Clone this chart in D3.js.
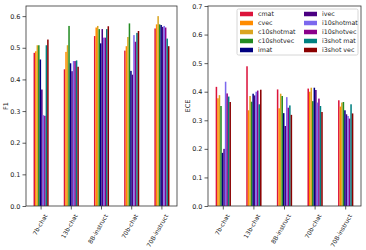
<!DOCTYPE html>
<html>
<head>
<meta charset="utf-8">
<script src="https://cdn.jsdelivr.net/npm/d3@7"></script>
<style>
body { margin: 0; background: #fff; }
text { font-family: "DejaVu Sans", sans-serif; fill: #222; }
</style>
</head>
<body>
<script>
var models = ["7b-chat", "13b-chat", "8B-instruct", "70b-chat", "70B-instruct"];
var series = ["cmat", "cvec", "c10shotmat", "c10shotvec", "imat", "ivec", "i10shotmat", "i10shotvec", "i3shot mat", "i3shot vec"];
var colors = ["#dc143c", "#ff8c00", "#daa520", "#228b22", "#000080", "#4b0082", "#7b68ee", "#8b008b", "#008080", "#8b0000"];

// one row per model, one value per series
var f1 = [
    [0.484, 0.489, 0.508, 0.508, 0.463, 0.368, 0.287, 0.285, 0.508, 0.526],
    [0.432, 0.487, 0.508, 0.569, 0.451, 0.426, 0.458, 0.458, 0.460, 0.440],
    [0.537, 0.564, 0.569, 0.559, 0.514, 0.559, 0.532, 0.532, 0.559, 0.568],
    [0.491, 0.505, 0.534, 0.577, 0.427, 0.415, 0.540, 0.519, 0.547, 0.553],
    [0.561, 0.574, 0.600, 0.574, 0.572, 0.566, 0.569, 0.564, 0.529, 0.505]
];
var ece = [
    [0.417, 0.377, 0.388, 0.350, 0.186, 0.200, 0.435, 0.394, 0.383, 0.364],
    [0.489, 0.335, 0.385, 0.365, 0.393, 0.387, 0.400, 0.404, 0.356, 0.407],
    [0.408, 0.342, 0.393, 0.385, 0.325, 0.280, 0.381, 0.344, 0.352, 0.319],
    [0.411, 0.400, 0.414, 0.367, 0.414, 0.406, 0.362, 0.376, 0.350, 0.329],
    [0.370, 0.348, 0.362, 0.364, 0.335, 0.321, 0.315, 0.306, 0.356, 0.324]
];
var f1Ticks = [0.0, 0.1, 0.2, 0.3, 0.4, 0.5, 0.6];
var eceTicks = [0.0, 0.1, 0.2, 0.3, 0.4, 0.5, 0.6, 0.7];

var W = 366, H = 250;
var svg = d3.select("body").append("svg").attr("width", W).attr("height", H);

function panel(data, ticks, ymax, left, right, label, labelX) {
    var top = 6, bottom = 206;
    var x = d3.scaleBand().domain(models).range([left, right]).paddingInner(0.5).paddingOuter(0.25);
    var xs = d3.scaleBand().domain(series).range([0, x.bandwidth()]);
    var y = d3.scaleLinear().domain([0, ymax]).range([bottom, top]);

    var g = svg.append("g");
    g.selectAll("g.grp")
        .data(data)
        .enter()
        .append("g")
        .attr("transform", function(d, i) { return "translate(" + x(models[i]) + ",0)"; })
        .selectAll("rect")
        .data(function(d) { return d; })
        .enter()
        .append("rect")
        .attr("x", function(d, j) { return xs(series[j]); })
        .attr("y", function(d) { return y(d); })
        .attr("width", xs.bandwidth())
        .attr("height", function(d) { return y(0) - y(d); })
        .attr("fill", function(d, j) { return colors[j]; });

    var ya = g.append("g").attr("transform", "translate(" + left + ",0)")
        .call(d3.axisLeft(y).tickValues(ticks).tickFormat(d3.format(".1f")).tickSize(3.5).tickPadding(2));
    ya.selectAll("text").style("font-size", "6.5px");
    var xa = g.append("g").attr("transform", "translate(0," + bottom + ")")
        .call(d3.axisBottom(x).tickSize(3.5).tickPadding(2));
    xa.selectAll("text")
        .style("font-size", "6px")
        .attr("text-anchor", "end")
        .attr("dy", "0.35em")
        .attr("transform", "translate(0,6) rotate(-60)");
    g.selectAll(".domain").remove();
    g.append("rect").attr("x", left).attr("y", top).attr("width", right - left).attr("height", bottom - top)
        .attr("fill", "none").attr("stroke", "#333").attr("stroke-width", 0.8);
    g.selectAll(".tick line").attr("stroke", "#333").attr("stroke-width", 0.8);

    g.append("text").attr("transform", "translate(" + labelX + "," + (top + bottom) / 2 + ") rotate(-90)")
        .attr("text-anchor", "middle").style("font-size", "6.5px").text(label);
    return g;
}

panel(f1, f1Ticks, 0.632, 26, 177, "F1", 8);
var right = panel(ece, eceTicks, 0.7, 208, 361, "ECE", 190);

// legend
var leg = right.append("g").attr("transform", "translate(237,9)");
leg.append("rect").attr("width", 121).attr("height", 46).attr("rx", 1.5)
    .attr("fill", "#fff").attr("fill-opacity", 0.8).attr("stroke", "#ccc").attr("stroke-width", 0.8);
var item = leg.selectAll("g.item")
    .data(series)
    .enter()
    .append("g")
    .attr("transform", function(d, i) { return "translate(" + (i < 5 ? 3 : 67) + "," + (5 + (i % 5) * 9) + ")"; });
item.append("rect").attr("width", 13).attr("height", 4.5).attr("y", -2.25)
    .attr("fill", function(d, i) { return colors[i]; });
item.append("text").attr("x", 18).attr("dy", "0.35em").style("font-size", "6.3px").text(function(d) { return d; });
</script>
</body>
</html>
